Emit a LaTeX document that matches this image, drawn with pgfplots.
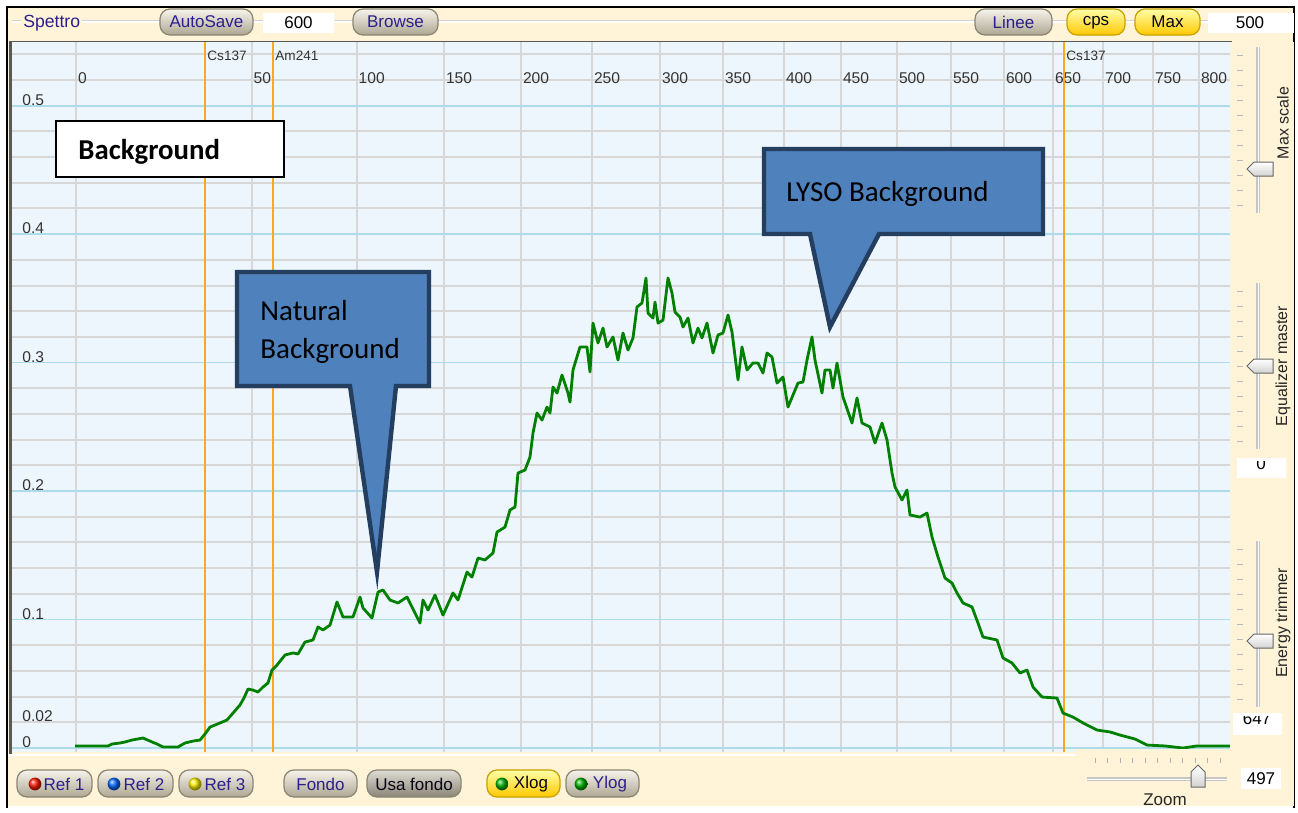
\documentclass[border=0pt]{standalone}
\usepackage{pgfplots}
\pgfplotsset{compat=1.18}
\usepackage{fontspec}
\setmainfont{Liberation Sans}
\newfontfamily\calfont{Carlito}
\definecolor{cream}{HTML}{FFF4D8}
\definecolor{plotbg}{HTML}{EEF6FD}
\definecolor{gridgray}{HTML}{D7D7D7}
\definecolor{gridblue}{HTML}{ADDBEA}
\definecolor{curvegreen}{HTML}{008000}
\definecolor{orangeline}{HTML}{FFA81E}
\definecolor{calfill}{HTML}{4F81BD}
\definecolor{caledge}{HTML}{233E5F}
\definecolor{uitext}{HTML}{2C1F8E}
\definecolor{btntop}{HTML}{F7F4EB}
\definecolor{btnbot}{HTML}{ADA692}
\definecolor{btnedge}{HTML}{8A8472}
\definecolor{yeltop}{HTML}{FFFFA8}
\definecolor{yelbot}{HTML}{FFC800}
\definecolor{yeledge}{HTML}{C9A000}
\definecolor{ticktext}{HTML}{333333}
\newcommand\btnfont{\fontsize{8.5pt}{10pt}\selectfont}
\newcommand\tickfont{\fontsize{7.8pt}{9pt}\selectfont}
\newcommand\uibtn[5][]{%
  \draw[draw=btnedge, line width=0.6pt, rounded corners=5pt, top color=btntop, bottom color=btnbot, #1] (#2,#3) rectangle (#4,#5);}
\newcommand\vslider[3]{%
  \draw[line width=1.6pt, draw=gray!45] (1258,#1) -- (1258,#2);
  \draw[line width=0.5pt, draw=white] (1258.6,#1) -- (1258.6,#2);
  \foreach \k in {0,...,10} {\draw[gray!55, line width=0.5pt] (1237,{#1+8+\k*15}) -- (1243,{#1+8+\k*15});}
  \draw[draw=gray!80!black, line width=0.5pt, top color=white, bottom color=gray!35] (1247,#3) -- (1254,{#3-7}) -- (1273,{#3-7}) -- (1273,{#3+7}) -- (1254,{#3+7}) -- cycle;}
\begin{document}
\begin{tikzpicture}
\begin{scope}[x=0.5pt,y=-0.5pt]
  \path[use as bounding box, fill=white] (0,0) rectangle (1298,808);
  \fill[cream] (8,8) rectangle (1294,806);
  \draw[black, line width=1pt] (7,808) -- (7,7) -- (1294,7) -- (1294,808);
  \draw[gray!35, line width=0.5pt] (12,20.5) -- (1290,20.5);
  \draw[white, line width=0.6pt] (12,22) -- (1290,22);
  \node[anchor=base west, inner sep=1pt, fill=cream, text=uitext, font=\fontsize{8.8pt}{10pt}\selectfont] at (21,27.5) {Spettro};
  \uibtn{160}{9}{253}{35}
  \node[text=uitext, font=\btnfont] at (206.5,22) {AutoSave};
  \fill[white] (263,13) rectangle (334,33);
  \node[text=black, font=\btnfont] at (298.5,23) {600};
  \uibtn{353}{9}{438}{35}
  \node[text=uitext, font=\btnfont] at (395.5,22) {Browse};
  \uibtn{975}{9}{1052}{35}
  \node[text=uitext, font=\btnfont] at (1013.5,22) {Linee};
  \uibtn[draw=yeledge, top color=yeltop, bottom color=yelbot]{1067}{9}{1125}{35}
  \node[text=black!85!uitext, font=\btnfont] at (1096,23) {cps};
  \uibtn[draw=yeledge, top color=yeltop, bottom color=yelbot]{1135}{9}{1200}{35}
  \node[text=black!85!uitext, font=\btnfont] at (1167.5,22) {Max};
  \fill[white] (1208,13) rectangle (1294,33);
  \node[text=black, font=\btnfont] at (1250,23) {500};
  \draw[gray!70!black, line width=1pt] (9,41.5) -- (1232,41.5);
  \draw[gray!70!black, line width=1.5pt] (10.5,41) -- (10.5,756);
\end{scope}

\begin{axis}[
  at={(6pt,-376pt)}, anchor=south west,
  scale only axis, width=610pt, height=355pt,
  xmin=12, xmax=1232, ymin=-0.0031, ymax=0.5496,
  axis line style={draw=none},
  axis background/.style={fill=plotbg},
  tick style={draw=none}, major tick length=0pt, minor tick length=0pt,
  /pgf/number format/assume math mode=true,
  tick label style={font=\tickfont, text=ticktext, inner sep=0pt},
  xtick={76,251.7,356.7,444,521,592,660,723,784,841,897,951,1004,1053,1103,1153,1199},
  xticklabels={0,50,100,150,200,250,300,350,400,450,500,550,600,650,700,750,800},
  xticklabel pos=upper,
  xticklabel style={anchor=north west, xshift=0.8pt, yshift=-15pt},
  xmajorgrids, major grid style={gridgray, line width=1pt},
  ytick={0,0.02,0.1,0.2,0.3,0.4,0.5},
  yticklabels={0,0.02,0.1,0.2,0.3,0.4,0.5},
  yticklabel style={anchor=south west, xshift=5pt, yshift=0pt},
  minor ytick={0.02,0.04,0.06,0.08,0.12,0.14,0.16,0.18,0.22,0.24,0.26,0.28,0.32,0.34,0.36,0.38,0.42,0.44,0.46,0.48,0.52,0.54},
  yminorgrids, minor grid style={gridgray, line width=1pt},
  extra y ticks={0,0.1,0.2,0.3,0.4,0.5},
  extra y tick labels={},
  extra y tick style={grid=major, major grid style={gridblue, line width=0.8pt}},
]
\addplot[orangeline, line width=0.9pt] coordinates {(205,-0.0031) (205,0.5496)};
\addplot[orangeline, line width=0.9pt] coordinates {(273,-0.0031) (273,0.5496)};
\addplot[orangeline, line width=0.9pt] coordinates {(1064,-0.0031) (1064,0.5496)};
\node[anchor=base west, inner sep=0pt, font=\fontsize{6.8pt}{8pt}\selectfont, text=ticktext] at (axis cs:207,0.5352) {Cs137};
\node[anchor=base west, inner sep=0pt, font=\fontsize{6.8pt}{8pt}\selectfont, text=ticktext] at (axis cs:275,0.5352) {Am241};
\node[anchor=base west, inner sep=0pt, font=\fontsize{6.8pt}{8pt}\selectfont, text=ticktext] at (axis cs:1066,0.5352) {Cs137};
\addplot[curvegreen, line width=1.4pt, line join=round] coordinates {
(75,0.0016) (108,0.0016) (112,0.0031) (120,0.0039) (125,0.0047) (132,0.0062) (143,0.0078)
(150,0.0054) (157,0.0031) (163,0.0008) (178,0.0008) (185,0.0039) (193,0.0054) (200,0.0062)
(205,0.0109) (210,0.0163) (220,0.0195) (227,0.0218) (233,0.0272) (240,0.0335) (244,0.0390)
(248,0.0459) (253,0.0451) (258,0.0436) (263,0.0475) (268,0.0506) (272,0.0607) (277,0.0646)
(285,0.0724) (293,0.0740) (298,0.0732) (305,0.0825) (313,0.0841) (318,0.0942) (323,0.0919)
(330,0.0957) (337,0.1137) (343,0.1020) (353,0.1020) (360,0.1175) (363,0.1090) (372,0.1012)
(378,0.1214) (383,0.1230) (390,0.1152) (398,0.1129) (407,0.1175) (412,0.1098) (420,0.0973)
(423,0.1152) (428,0.1074) (435,0.1191) (443,0.1035) (453,0.1207) (458,0.1152) (467,0.1370)
(472,0.1331) (478,0.1479) (485,0.1464) (493,0.1518) (497,0.1681) (505,0.1720) (510,0.1853)
(515,0.1876) (518,0.2141) (525,0.2164) (530,0.2265) (533,0.2452) (537,0.2608) (542,0.2553)
(547,0.2654) (550,0.2608) (553,0.2810) (557,0.2763) (562,0.2904) (568,0.2763) (570,0.2693)
(573,0.2943) (580,0.3122) (587,0.3122) (590,0.2927) (593,0.3308) (598,0.3153) (603,0.3269)
(607,0.3122) (613,0.3200) (618,0.3020) (623,0.3231) (628,0.3098) (633,0.3192) (637,0.3433)
(642,0.3464) (646,0.3659) (648,0.3386) (653,0.3347) (655,0.3472) (658,0.3308) (663,0.3331)
(668,0.3659) (672,0.3542) (675,0.3394) (680,0.3355) (683,0.3277) (688,0.3347) (693,0.3153)
(698,0.3269) (702,0.3192) (707,0.3308) (713,0.3075) (718,0.3215) (723,0.3231) (728,0.3371)
(732,0.3238) (738,0.2865) (742,0.3122) (747,0.2943) (753,0.2997) (758,0.2997) (763,0.2919)
(767,0.3075) (772,0.3044) (777,0.2841) (783,0.2888) (788,0.2654) (793,0.2748) (798,0.2841)
(803,0.2849) (807,0.3020) (812,0.3200) (815,0.3020) (822,0.2763) (825,0.2943) (830,0.2943)
(833,0.2802) (837,0.2997) (843,0.2732) (852,0.2530) (857,0.2725) (862,0.2530) (870,0.2499)
(875,0.2374) (882,0.2530) (887,0.2398) (892,0.2141) (895,0.2032) (902,0.1931) (907,0.2008)
(910,0.1814) (920,0.1798) (927,0.1829) (932,0.1643) (938,0.1487) (945,0.1323) (952,0.1284)
(957,0.1207) (963,0.1129) (972,0.1098) (978,0.0973) (983,0.0864) (997,0.0841) (1003,0.0701)
(1012,0.0662) (1020,0.0584) (1027,0.0607) (1033,0.0475) (1042,0.0397) (1057,0.0389) (1063,0.0272)
(1073,0.0241) (1083,0.0195) (1097,0.0140) (1110,0.0125) (1120,0.0101) (1135,0.0070) (1147,0.0023)
(1165,0.0016) (1183,0.0000) (1197,0.0016) (1215,0.0016) (1232,0.0016)
};
\end{axis}

\begin{scope}[x=0.5pt,y=-0.5pt]
  % right panel
  \fill[cream] (1230,42) rectangle (1294,757);
  \vslider{47}{213}{169}
  \vslider{283}{449}{366}
  \vslider{541}{707}{641}
  \node[rotate=90, text=black!85, font=\fontsize{8pt}{9pt}\selectfont] at (1283,123) {Max scale};
  \node[rotate=90, text=black!85, font=\fontsize{8pt}{9pt}\selectfont] at (1283,366) {Equalizer master};
  \node[rotate=90, text=black!85, font=\fontsize{8pt}{9pt}\selectfont] at (1283,623) {Energy trimmer};
  \fill[white] (1237,458) rectangle (1286,478);
  \begin{scope}\clip (1237,461) rectangle (1286,478);
    \node[font=\btnfont, text=black] at (1261,464) {0};\end{scope}
  \fill[white] (1233,713) rectangle (1282,735);
  \begin{scope}\clip (1233,716) rectangle (1282,735);
    \node[font=\btnfont, text=black] at (1257,719) {647};\end{scope}
  % bottom panel
  \fill[cream] (8,755) rectangle (1294,806);
  \fill[cream] (1075,749) rectangle (1294,806);
  \draw[white, line width=0.8pt] (8,755) -- (1075,755);
  \foreach \t in {0,...,10} {\draw[gray!60, line width=0.5pt] ({1095+\t*12.5},758) -- ({1095+\t*12.5},763);}
  \draw[line width=1.6pt, draw=gray!45] (1087,779) -- (1227,779);
  \draw[line width=0.5pt, draw=white] (1087,779.6) -- (1227,779.6);
  \draw[draw=gray!80!black, line width=0.5pt, top color=white, bottom color=gray!35] (1198,765) -- (1205,772) -- (1205,787) -- (1191,787) -- (1191,772) -- cycle;
  \fill[white] (1241,768) rectangle (1281,789);
  \node[font=\btnfont, text=black] at (1261,779) {497};
  \node[font=\btnfont, text=black!85] at (1165,800) {Zoom};
  % bottom buttons
  \uibtn{17}{770}{92}{797}
  \shade[ball color=red!80!orange] (35,784) circle[radius=3.2pt];
  \node[text=uitext, font=\btnfont] at (64,784) {Ref 1};
  \uibtn{98}{770}{173}{797}
  \shade[ball color=blue!60!cyan] (114,784) circle[radius=3.2pt];
  \node[text=uitext, font=\btnfont] at (144,784) {Ref 2};
  \uibtn{179}{770}{253}{797}
  \shade[ball color=yellow!90!orange] (195,784) circle[radius=3.2pt];
  \node[text=uitext, font=\btnfont] at (225,784) {Ref 3};
  \uibtn{284}{770}{357}{797}
  \node[text=uitext, font=\btnfont] at (320.5,784) {Fondo};
  \uibtn[top color=btntop!80!gray, bottom color=btnbot!80!black]{367}{770}{461}{797}
  \node[text=black!85!uitext, font=\btnfont] at (414,784) {Usa fondo};
  \uibtn[draw=yeledge, top color=yeltop, bottom color=yelbot]{487}{770}{560}{797}
  \shade[ball color=green!70!black] (502,784) circle[radius=3.2pt];
  \node[text=black!85!uitext, font=\btnfont] at (531,784) {Xlog};
  \uibtn{566}{770}{639}{797}
  \shade[ball color=green!70!black] (581,784) circle[radius=3.2pt];
  \node[text=uitext, font=\btnfont] at (610,784) {Ylog};
  % callouts
  \draw[draw=black, line width=0.7pt, fill=white] (56,121) rectangle (284,177);
  \node[anchor=base west, inner sep=0pt, font=\calfont\bfseries\fontsize{14.4pt}{17pt}\selectfont] at (78,159.5) {Background};
  \draw[draw=caledge, line width=2.2pt, fill=calfill, line join=miter] (237,272) -- (429,272) -- (429,386) -- (396,386) -- (377,572) -- (350,386) -- (237,386) -- cycle;
  \node[anchor=base west, inner sep=0pt, font=\calfont\fontsize{14.5pt}{17pt}\selectfont] at (260,320) {Natural};
  \node[anchor=base west, inner sep=0pt, font=\calfont\fontsize{14.5pt}{17pt}\selectfont] at (260,358) {Background};
  \draw[draw=caledge, line width=2.2pt, fill=calfill, line join=miter] (764,149) -- (1043,149) -- (1043,234) -- (879,234) -- (830,327) -- (810,234) -- (764,234) -- cycle;
  \node[anchor=base west, inner sep=0pt, font=\calfont\fontsize{14.5pt}{17pt}\selectfont] at (786,201.5) {LYSO Background};
\end{scope}
\end{tikzpicture}
\end{document}
